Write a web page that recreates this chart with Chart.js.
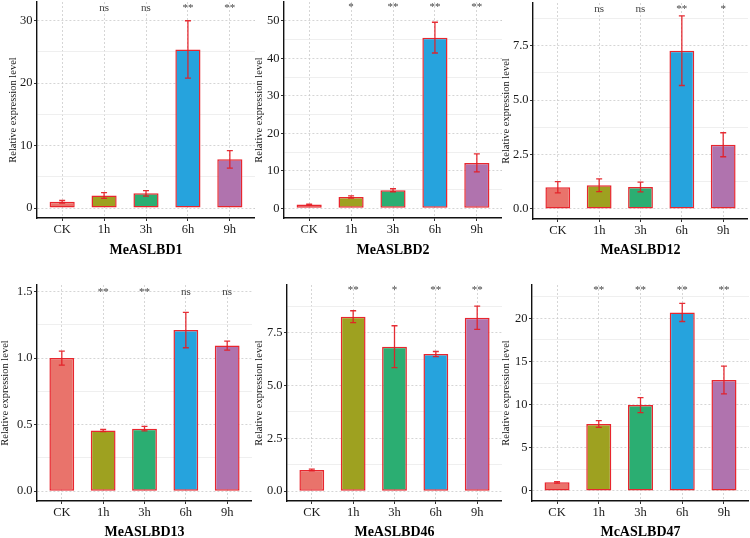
<!DOCTYPE html>
<html>
<head>
<meta charset="utf-8">
<script src="https://cdn.jsdelivr.net/npm/chart.js@4.4.0/dist/chart.umd.min.js"></script>
<style>
  html, body { margin: 0; padding: 0; background: #fff; overflow: hidden; }
  body { width: 750px; height: 538px; position: relative; }
  canvas { position: absolute; }
</style>
</head>
<body>
<script>
// categories + gene names
const times = ['CK', '1h', '3h', '6h', '9h'];
const genes = ['MeASLBD1', 'MeASLBD2', 'MeASLBD12', 'MeASLBD13', 'MeASLBD46', 'McASLBD47'];
const barColors = ['#E9736B', '#9EA120', '#2BAE72', '#26A3DD', '#B073AE'];

// MeASLBD1
const mean1 = [1.0, 2.0, 2.35, 25.4, 7.8];
const err1 = [0.2, 0.45, 0.45, 4.6, 1.4];
const sig1 = ['', 'ns', 'ns', '**', '**'];
const yTicks1 = [0, 10, 20, 30];
const yMinor1 = [5, 15, 25];
const yLabels1 = ['0', '10', '20', '30'];
const yRange1 = [-1.6, 33];
const sigY1 = 32;

// MeASLBD2
const mean2 = [1.0, 3.0, 4.8, 45.5, 12.1];
const err2 = [0.1, 0.3, 0.4, 4.1, 2.4];
const sig2 = ['', '*', '**', '**', '**'];
const yTicks2 = [0, 10, 20, 30, 40, 50];
const yMinor2 = [5, 15, 25, 35, 45];
const yLabels2 = ['0', '10', '20', '30', '40', '50'];
const yRange2 = [-2.6, 55];
const sigY2 = 53.7;

// MeASLBD12
const mean3 = [1.0, 1.09, 1.01, 7.27, 2.95];
const err3 = [0.26, 0.29, 0.22, 1.6, 0.55];
const sig3 = ['', 'ns', 'ns', '**', '*'];
const yTicks3 = [0, 2.5, 5, 7.5];
const yMinor3 = [1.25, 3.75, 6.25, 8.75];
const yLabels3 = ['0.0', '2.5', '5.0', '7.5'];
const yRange3 = [-0.46, 9.46];
const sigY3 = 9.17;

// MeASLBD13
const mean4 = [1.0, 0.456, 0.469, 1.211, 1.094];
const err4 = [0.053, 0.008, 0.017, 0.133, 0.034];
const sig4 = ['', '**', '**', 'ns', 'ns'];
const yTicks4 = [0, 0.5, 1, 1.5];
const yMinor4 = [0.25, 0.75, 1.25];
const yLabels4 = ['0.0', '0.5', '1.0', '1.5'];
const yRange4 = [-0.075, 1.55];
const sigY4 = 1.5;

// MeASLBD46
const mean5 = [1.0, 8.26, 6.84, 6.49, 8.21];
const err5 = [0.04, 0.28, 0.99, 0.12, 0.55];
const sig5 = ['', '**', '*', '**', '**'];
const yTicks5 = [0, 2.5, 5, 7.5];
const yMinor5 = [1.25, 3.75, 6.25, 8.75];
const yLabels5 = ['0.0', '2.5', '5.0', '7.5'];
const yRange5 = [-0.47, 9.76];
const sigY5 = 9.53;

// McASLBD47
const mean6 = [1.0, 7.76, 9.96, 20.69, 12.86];
const err6 = [0.08, 0.39, 0.87, 1.05, 1.6];
const sig6 = ['', '**', '**', '**', '**'];
const yTicks6 = [0, 5, 10, 15, 20];
const yMinor6 = [2.5, 7.5, 12.5, 17.5, 22.5];
const yLabels6 = ['0', '5', '10', '15', '20'];
const yRange6 = [-1.16, 23.87];
const sigY6 = 23.3;

const serif = 'Liberation Serif';

// error bars drawn from the mean/err arrays
const errorBars = {
  id: 'errorBars',
  afterDatasetsDraw(chart, args, opts) {
    const ctx = chart.ctx, xs = chart.scales.x, ys = chart.scales.y;
    ctx.save();
    ctx.strokeStyle = 'rgba(228,28,36,0.92)';
    ctx.lineWidth = 1.3;
    chart.data.datasets[0].data.forEach((p, i) => {
      const e = opts.err[i];
      const x = xs.getPixelForValue(p.x);
      const yt = ys.getPixelForValue(p.y + e);
      const yb = ys.getPixelForValue(p.y - e);
      ctx.beginPath();
      ctx.moveTo(x, yt); ctx.lineTo(x, yb);
      ctx.moveTo(x - 3, yt); ctx.lineTo(x + 3, yt);
      ctx.moveTo(x - 3, yb); ctx.lineTo(x + 3, yb);
      ctx.stroke();
    });
    ctx.restore();
  }
};

// significance marks above the bars
const sigLabels = {
  id: 'sigLabels',
  afterDatasetsDraw(chart, args, opts) {
    const ctx = chart.ctx, xs = chart.scales.x, ys = chart.scales.y;
    ctx.save();
    ctx.font = '11px "' + serif + '"';
    ctx.fillStyle = '#444';
    ctx.textAlign = 'center';
    ctx.textBaseline = 'middle';
    opts.labels.forEach((t, i) => {
      if (t) ctx.fillText(t, xs.getPixelForValue(i), ys.getPixelForValue(opts.y));
    });
    ctx.restore();
  }
};

function makePanel(k, mean, err, sig, ticks, minor, labels, range, sigY, box) {
  const canvas = document.createElement('canvas');
  canvas.width = box.w;
  canvas.height = box.h;
  canvas.style.left = box.left + 'px';
  canvas.style.top = box.top + 'px';
  document.body.appendChild(canvas);

  const isMajor = (c) => c.tick && ticks.includes(c.tick.value);

  new Chart(canvas, {
    type: 'bar',
    data: {
      datasets: [{
        data: mean.map((v, i) => ({ x: i, y: v })),
        backgroundColor: barColors,
        borderColor: '#E8262E',
        borderWidth: 1.5,
        borderSkipped: false,
        barPercentage: 0.6,
        categoryPercentage: 1
      }]
    },
    options: {
      responsive: false,
      animation: false,
      devicePixelRatio: 1,
      layout: { padding: { top: box.padTop, left: 0, right: 0, bottom: 0 } },
      plugins: {
        legend: { display: false },
        tooltip: { enabled: false },
        errorBars: { err: err },
        sigLabels: { labels: sig, y: sigY }
      },
      scales: {
        x: {
          type: 'linear',
          min: -0.6,
          max: 4.6,
          offset: false,
          afterBuildTicks: (s) => { s.ticks = times.map((t, i) => ({ value: i })); },
          afterFit: (s) => { s.height = box.xH; s.paddingLeft = 0; s.paddingRight = 0; },
          ticks: {
            autoSkip: false,
            maxRotation: 0,
            callback: (v) => times[v],
            font: { family: serif, size: 12.5 },
            color: '#1a1a1a',
            padding: 1
          },
          grid: { offset: false, color: '#cccccc', lineWidth: 0.8, tickLength: 3, tickColor: '#333', tickWidth: 1 },
          border: { display: true, color: '#111', width: 1.4, dash: [2, 2] },
          title: {
            display: true,
            text: genes[k],
            color: '#000',
            font: { family: serif, size: 14, weight: 'bold' },
            padding: { top: 0, bottom: box.titleOff - 8.4 }
          }
        },
        y: {
          type: 'linear',
          min: range[0],
          max: range[1],
          afterBuildTicks: (s) => {
            s.ticks = ticks.concat(minor).sort((a, b) => a - b).map((v) => ({ value: v }));
          },
          afterFit: (s) => { s.width = box.yW; s.paddingTop = 0; s.paddingBottom = 0; },
          ticks: {
            autoSkip: false,
            callback: (v) => { const j = ticks.indexOf(v); return j < 0 ? '' : labels[j]; },
            font: { family: serif, size: 12.5 },
            color: '#1a1a1a',
            padding: 1.5
          },
          grid: {
            color: (c) => isMajor(c) ? '#cbcbcb' : '#ebebeb',
            lineWidth: 0.8,
            tickLength: 3,
            tickColor: (c) => isMajor(c) ? '#333' : 'rgba(0,0,0,0)',
            tickWidth: 1
          },
          border: { display: true, color: '#111', width: 1.4, dash: (c) => isMajor(c) ? [2, 2] : [] },
          title: {
            display: true,
            text: 'Relative expression level',
            color: '#111',
            font: { family: serif, size: 10.5 },
            padding: { top: 6.7, bottom: 0 }
          }
        }
      }
    },
    plugins: [errorBars, sigLabels]
  });
}

// where each panel sits on the page
const boxes = [
  { left: 0,   top: 0,   w: 255, h: 268, yW: 37, padTop: 2,  xH: 50, titleOff: 18 },
  { left: 246, top: 0,   w: 256, h: 268, yW: 38, padTop: 2,  xH: 50, titleOff: 18 },
  { left: 493, top: 0,   w: 255, h: 268, yW: 40, padTop: 3,  xH: 49, titleOff: 18 },
  { left: -8,  top: 270, w: 260, h: 272, yW: 45, padTop: 15, xH: 41, titleOff: 10 },
  { left: 246, top: 270, w: 256, h: 272, yW: 41, padTop: 15, xH: 41, titleOff: 10 },
  { left: 493, top: 270, w: 256, h: 272, yW: 39, padTop: 15, xH: 41, titleOff: 10 }
];

makePanel(0, mean1, err1, sig1, yTicks1, yMinor1, yLabels1, yRange1, sigY1, boxes[0]);
makePanel(1, mean2, err2, sig2, yTicks2, yMinor2, yLabels2, yRange2, sigY2, boxes[1]);
makePanel(2, mean3, err3, sig3, yTicks3, yMinor3, yLabels3, yRange3, sigY3, boxes[2]);
makePanel(3, mean4, err4, sig4, yTicks4, yMinor4, yLabels4, yRange4, sigY4, boxes[3]);
makePanel(4, mean5, err5, sig5, yTicks5, yMinor5, yLabels5, yRange5, sigY5, boxes[4]);
makePanel(5, mean6, err6, sig6, yTicks6, yMinor6, yLabels6, yRange6, sigY6, boxes[5]);
</script>
</body>
</html>
